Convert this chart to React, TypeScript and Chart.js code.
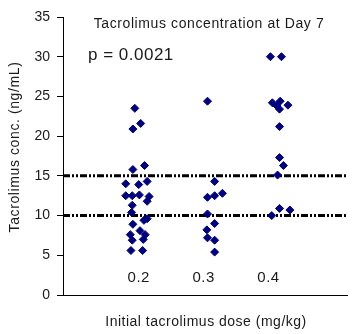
import React, { useEffect, useRef } from 'react';
import { Chart, registerables } from 'chart.js';

Chart.register(...registerables);

// ---- data ----
const categories = ['0.2', '0.3', '0.4'];
const categoryValues = [0.2, 0.3, 0.4];

const dose02X = [0.194, 0.203, 0.191, 0.209, 0.191, 0.180, 0.200, 0.213, 0.180, 0.190, 0.201, 0.216, 0.213, 0.190, 0.189, 0.191, 0.208, 0.213, 0.202, 0.187, 0.210, 0.190, 0.207, 0.188, 0.206];
const dose02Y = [23.5, 21.6, 20.9, 16.3, 15.8, 14.0, 13.9, 14.3, 12.5, 12.5, 12.6, 12.4, 11.8, 11.3, 10.4, 8.9, 9.4, 9.6, 8.1, 7.6, 7.6, 6.9, 7.0, 5.6, 5.6];

const dose03X = [0.306, 0.317, 0.306, 0.317, 0.329, 0.306, 0.317, 0.305, 0.306, 0.317, 0.317];
const dose03Y = [24.4, 14.3, 12.3, 12.5, 12.8, 10.2, 9.0, 8.2, 7.2, 6.9, 5.4];

const dose04X = [0.403, 0.420, 0.406, 0.418, 0.413, 0.430, 0.417, 0.417, 0.417, 0.423, 0.414, 0.405, 0.417, 0.433];
const dose04Y = [30.0, 30.0, 24.2, 24.4, 23.8, 23.9, 23.4, 21.2, 17.3, 16.3, 15.1, 10.0, 10.9, 10.7];

const targetRange = [10, 15];
const X_MIN = 0.0833;
const X_MAX = 0.521;
const Y_MIN = 0;
const Y_MAX = 35;
const Y_STEP = 5;

const chartTitle = 'Tacrolimus concentration at Day 7';
const pText = 'p = 0.0021';
const xTitle = 'Initial tacrolimus dose (mg/kg)';
const yTitle = 'Tacrolimus conc. (ng/mL)';

const FONT = '"Liberation Sans", Arial, sans-serif';
const TEXT = '#1a1a1a';
const MARK = '#000080';

const toPoints = (xs: number[], ys: number[]) => xs.map((x, i) => ({ x, y: ys[i] }));

export default function App() {
  const ref = useRef<HTMLCanvasElement>(null);

  useEffect(() => {
    if (!ref.current) return;
    const textPlugin = {
      id: 'texts',
      afterDraw(chart: any) {
        const { ctx, chartArea, scales } = chart;
        const xs = scales.x;
        const ys = scales.y;
        ctx.save();
        ctx.fillStyle = TEXT;
        ctx.textBaseline = 'middle';
        ctx.textAlign = 'center';
        ctx.font = `15px ${FONT}`;
        ctx.letterSpacing = '0.5px';
        categories.forEach((c, i) => {
          ctx.fillText(c, xs.getPixelForValue(categoryValues[i]), ys.getPixelForValue(2.15));
        });
        ctx.font = `14px ${FONT}`;
        ctx.letterSpacing = '0.6px';
        ctx.fillText(chartTitle, chartArea.left + 146, chartArea.top + 7);
        ctx.textAlign = 'left';
        ctx.font = `17px ${FONT}`;
        ctx.letterSpacing = '0.5px';
        ctx.fillText(pText, chartArea.left + 25, chartArea.top + 38);
        ctx.textAlign = 'center';
        ctx.font = `14px ${FONT}`;
        ctx.letterSpacing = '0.5px';
        ctx.fillText(xTitle, (chartArea.left + chartArea.right) / 2 + 1, chartArea.bottom + 27);
        ctx.translate(chartArea.left - 48, (chartArea.top + chartArea.bottom) / 2 - 9);
        ctx.rotate(-Math.PI / 2);
        ctx.letterSpacing = '0.6px';
        ctx.fillText(yTitle, 0, 0);
        ctx.restore();
      },
    };

    const scatterStyle = {
      pointStyle: 'rectRot' as const,
      pointRadius: 4,
      pointBorderWidth: 1,
      backgroundColor: MARK,
      borderColor: MARK,
      showLine: false,
      order: 0,
    };
    const lineStyle = {
      showLine: true,
      pointRadius: 0,
      borderColor: '#000',
      borderWidth: 3,
      borderDash: [7, 2, 2, 2, 2, 2],
      order: 1,
    };

    const chart = new Chart(ref.current, {
      type: 'scatter',
      data: {
        datasets: [
          { label: '0.2', data: toPoints(dose02X, dose02Y), ...scatterStyle },
          { label: '0.3', data: toPoints(dose03X, dose03Y), ...scatterStyle },
          { label: '0.4', data: toPoints(dose04X, dose04Y), ...scatterStyle },
          ...targetRange.map((v) => ({
            label: `target ${v}`,
            data: [{ x: X_MIN, y: v }, { x: X_MAX, y: v }],
            ...lineStyle,
          })),
        ] as any,
      },
      options: {
        animation: false,
        responsive: true,
        maintainAspectRatio: false,
        layout: { padding: { top: 17, left: 0, right: 0, bottom: 0 } },
        plugins: { legend: { display: false }, tooltip: { enabled: false } },
        scales: {
          x: {
            type: 'linear',
            min: X_MIN,
            max: X_MAX,
            ticks: { display: false },
            grid: { display: false },
            border: { display: true, color: '#000', width: 1 },
            afterFit: (s: any) => { s.height = 39; },
          },
          y: {
            min: Y_MIN,
            max: Y_MAX,
            ticks: { stepSize: Y_STEP, color: TEXT, padding: 7, font: { family: FONT, size: 14 } },
            grid: { drawOnChartArea: false, drawTicks: true, tickLength: 6, color: '#000' },
            border: { display: true, color: '#000', width: 1 },
            afterFit: (s: any) => { s.width = 63; },
          },
        },
      } as any,
      plugins: [textPlugin],
    });
    return () => chart.destroy();
  }, []);

  return (
    <div style={{ position: 'fixed', left: 0, top: 0, width: 352, height: 334, background: '#fff' }}>
      <canvas ref={ref} />
    </div>
  );
}
